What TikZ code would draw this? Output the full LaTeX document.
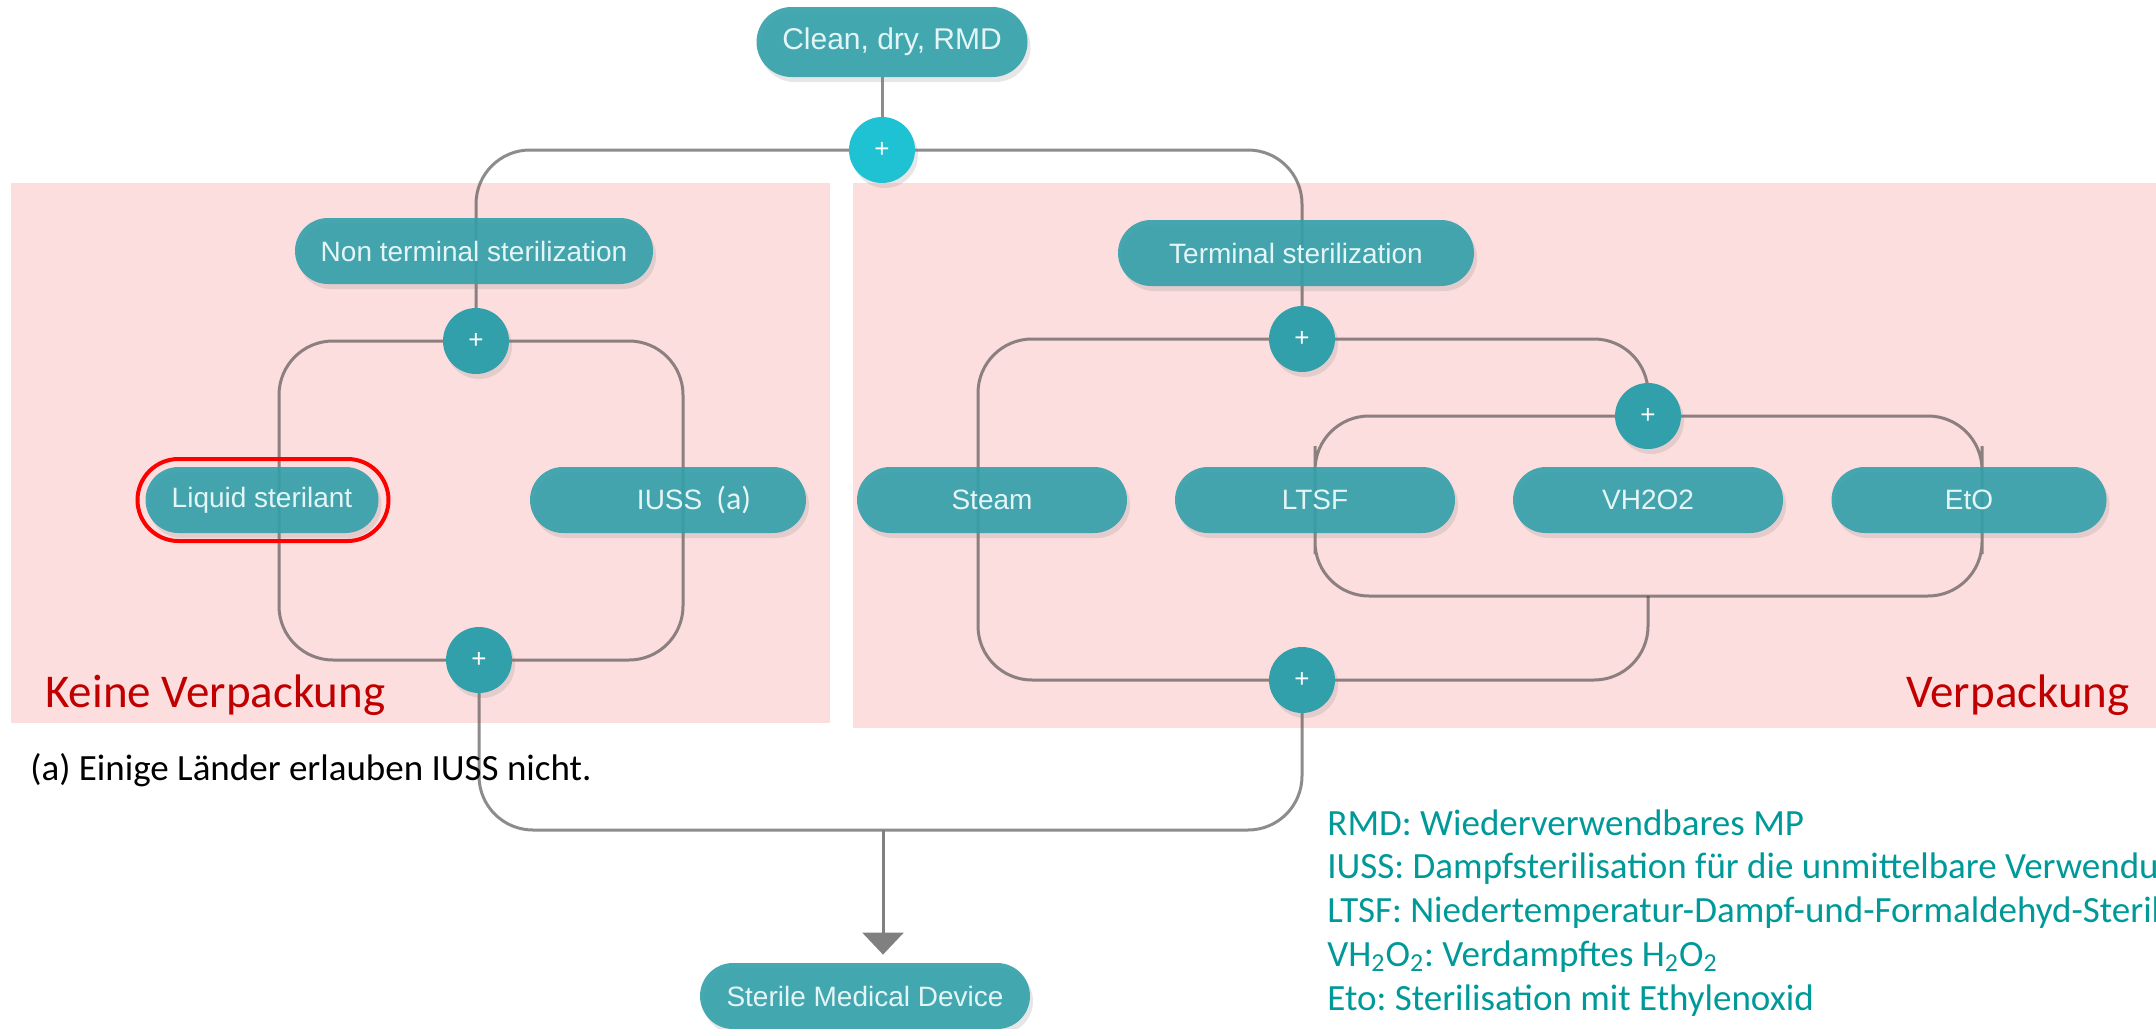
\documentclass[tikz,border=0pt]{standalone}
\usepackage{fontspec}
\setmainfont{Liberation Sans}
\newfontfamily\calibri{Carlito}
\usetikzlibrary{calc,shadows,backgrounds,arrows.meta}

\definecolor{panelpink}{RGB}{253,222,223}
\definecolor{pillteal}{RGB}{50,160,170}
\definecolor{plusbright}{RGB}{30,194,210}
\definecolor{pilltext}{RGB}{228,245,246}
\definecolor{legendteal}{RGB}{0,153,153}
\definecolor{warnred}{RGB}{192,0,0}

\tikzset{
  pill/.style={rectangle, rounded corners=16.5pt, fill=pillteal, fill opacity=0.9, text opacity=1,
    text=pilltext, minimum height=33pt, inner sep=0pt, font=\fontsize{14}{16}\selectfont,
    drop shadow={shadow xshift=1.5pt, shadow yshift=-2.5pt, opacity=0.2}},
  plusnode/.style={circle, fill=pillteal, text=white, minimum size=33pt, inner sep=0pt,
    font=\fontsize{13}{13}\selectfont,
    drop shadow={shadow xshift=1.5pt, shadow yshift=-2.5pt, opacity=0.2}},
  flow/.style={draw=black!75, draw opacity=0.6, line width=1.5pt, rounded corners=27pt},
  notetext/.style={anchor=base west, inner sep=0pt, font=\calibri\fontsize{18.5}{22}\selectfont},
}

\begin{document}
\frenchspacing
\begin{tikzpicture}[x=0.5pt, y=-0.5pt] % 1 unit = 1 px of the 2156x1028 sheet
\useasboundingbox (0,0) rectangle (2156,1028);
\clip (0,0) rectangle (2156,1028);

%% start, branches and joins
\node[pill, minimum width=135.5pt, minimum height=35pt, rounded corners=17.5pt,
  font=\fontsize{15}{17}\selectfont] (clean) at (892,42) {Clean, dry, RMD};
\node[plusnode, fill=plusbright] (top) at (882,150) {+};
\node[pill, minimum width=179pt] (nonterm) at (474,251) {Non terminal sterilization};
\node[pill, minimum width=178pt] (term) at (1296,253) {Terminal sterilization};
\node[plusnode] (nplus) at (476,341) {+};
\node[plusnode] (tplus) at (1302,339) {+};
\node[plusnode] (plus2) at (1648,416) {+};
\node[plusnode] (nbot) at (479,660) {+};
\node[plusnode] (tbot) at (1302,680) {+};

%% methods
\foreach \name/\x/\w/\txt in {liquid/262/116.5/Liquid sterilant, steam/992/135/Steam,
  ltsf/1315/140/LTSF, vh2o2/1648/135/VH2O2, eto/1969/137.5/EtO}
  {
  \node[pill, minimum width=\w pt] (\name) at (\x,500) {\txt};
  }
\node[pill, minimum width=138pt] (iuss) at (668,500)
  {\hspace*{26pt}IUSS\hspace{7pt}{\calibri\fontsize{16}{16}\selectfont(a)}};
\node[draw=red, line width=2pt, rounded corners=20.5pt, minimum width=125.5pt,
  minimum height=41pt, inner sep=0pt] (liqring) at (263,500) {};

\node[pill, minimum width=165pt] (sterile) at (865,996) {Sterile Medical Device};
\coordinate (ibot) at (1648,596);
\coordinate (merge) at (883,830);

\begin{scope}[on background layer]
% areas
\fill[panelpink] (11,183) rectangle (830,723);
\fill[panelpink] (853,183) rectangle (2156,728);

\draw[flow] (clean.south -| top) -- (top.center);
\draw[flow] (top.center) -| (nplus.center);
\draw[flow] (top.center) -| (tplus.center);
% no packaging loop
\draw[flow] (nplus.center) -| ($(liquid)+(17,0)$) |- (nbot.center) -| ($(iuss)+(15,0)$) |- (nplus.center);
% packaging loops
\draw[flow] (tplus.center) -| ($(steam)+(-14,0)$) |- (tbot.center);
\draw[flow] (tplus.center) -| (plus2.center);
\draw[flow] (plus2.center) -| (ltsf.center) |- (ibot) -| ($(eto)+(13,0)$) |- (plus2.center);
\draw[flow] (ibot) |- (tbot.center);
% to the sterile device
\draw[flow] (nbot.center) |- (merge) -| (tbot.center);
\draw[flow, draw=black!50, draw opacity=1, rounded corners=0pt,
  -{Triangle[width=20.5pt,length=11pt]}, shorten >=4pt]
  (merge) -- (merge |- sterile.north);
\end{scope}

%% labels
\node[anchor=base west, inner sep=0pt, text=warnred, font=\calibri\fontsize{23.5}{28}\selectfont]
  (keine) at (45,707) {Keine Verpackung};
\node[anchor=base east, inner sep=0pt, text=warnred, font=\calibri\fontsize{23.5}{28}\selectfont]
  (verp) at (2130,707) {Verpackung};
\node[notetext] (note) at (30,780) {(a) Einige Länder erlauben IUSS nicht.};

% legend
\foreach \i/\txt in {0/{RMD: Wiederverwendbares MP},
  1/{IUSS: Dampfsterilisation für die unmittelbare Verwendung},
  2/{LTSF: Niedertemperatur-Dampf-und-Formaldehyd-Sterilisation},
  3/{VH\textsubscript{2}O\textsubscript{2}: Verdampftes H\textsubscript{2}O\textsubscript{2}},
  4/{Eto: Sterilisation mit Ethylenoxid}}
  {
  \node[notetext, text=legendteal] (legend\i) at (1327,835+43.75*\i) {\txt};
  }
\end{tikzpicture}
\end{document}
